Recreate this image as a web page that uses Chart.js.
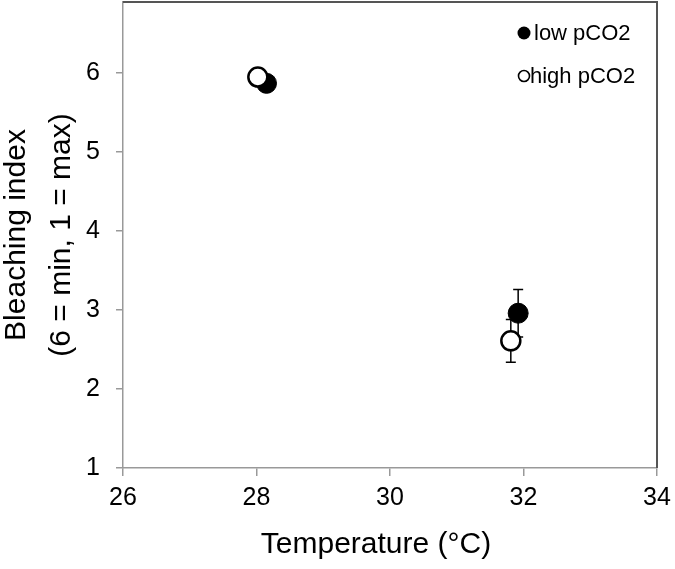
<!DOCTYPE html>
<html>
<head>
<meta charset="utf-8">
<script src="https://cdn.jsdelivr.net/npm/chart.js@4.4.1/dist/chart.umd.min.js"></script>
<style>
  html, body { margin: 0; padding: 0; background: #fff; }
  #wrap { position: relative; width: 675px; height: 569px; }
</style>
</head>
<body>
<div id="wrap"><canvas id="chart" width="675" height="569"></canvas></div>
<script>
// ===== Data =====
const LOW_TEMP = [28.15, 31.92];
const LOW_BLEACH = [5.87, 2.96];
const LOW_ERR = [0.05, 0.30];

const HIGH_TEMP = [28.02, 31.81];
const HIGH_BLEACH = [5.95, 2.61];
const HIGH_ERR = [0.05, 0.27];

const X_TICKS = [26, 28, 30, 32, 34];
const Y_TICKS = [1, 2, 3, 4, 5, 6];

const X_TITLE = 'Temperature (°C)';

const FONT = "'Liberation Sans', Arial, sans-serif";

function toPoints(xs, ys, errs) {
  return xs.map((x, i) => ({ x: x, y: ys[i], err: errs[i] }));
}

// error bars, drawn under the markers
const errorBars = {
  id: 'errorBars',
  beforeDatasetsDraw(chart) {
    const { ctx, scales: { x, y } } = chart;
    ctx.save();
    ctx.strokeStyle = '#000';
    ctx.lineWidth = 1.5;
    chart.data.datasets.forEach((ds) => {
      ds.data.forEach((p) => {
        const px = x.getPixelForValue(p.x);
        const top = y.getPixelForValue(p.y + p.err);
        const bot = y.getPixelForValue(p.y - p.err);
        ctx.beginPath();
        ctx.moveTo(px, top); ctx.lineTo(px, bot);
        ctx.moveTo(px - 5, top); ctx.lineTo(px + 5, top);
        ctx.moveTo(px - 5, bot); ctx.lineTo(px + 5, bot);
        ctx.stroke();
      });
    });
    ctx.restore();
  },
};

// top/right frame, x title (sits a bit left of centre) and inset legend
const frameLegend = {
  id: 'frameLegend',
  afterDraw(chart) {
    const { ctx, chartArea: a } = chart;
    ctx.save();
    ctx.strokeStyle = '#555';
    ctx.lineWidth = 2;
    ctx.beginPath();
    ctx.moveTo(a.left, a.top); ctx.lineTo(a.right, a.top); ctx.lineTo(a.right, a.bottom);
    ctx.stroke();

    ctx.fillStyle = '#000';
    ctx.textBaseline = 'middle';
    ctx.textAlign = 'center';
    ctx.font = '30px ' + FONT;
    ctx.fillText(X_TITLE, 376, 545);

    ctx.font = '22px ' + FONT;
    ctx.textAlign = 'left';
    chart.data.datasets.forEach((ds, i) => {
      const cy = i === 0 ? 33 : 76;
      const cx = 524;
      ctx.beginPath();
      ctx.arc(cx, cy, ds.filled ? 6.5 : 5.5, 0, Math.PI * 2);
      if (ds.filled) {
        ctx.fillStyle = '#000'; ctx.fill();
      } else {
        ctx.lineWidth = 1.6; ctx.strokeStyle = '#000'; ctx.stroke();
      }
      ctx.fillStyle = '#000';
      ctx.fillText(ds.label, cx + (ds.filled ? 10 : 6), cy + 1);
    });
    ctx.restore();
  },
};

new Chart(document.getElementById('chart'), {
  type: 'scatter',
  data: {
    datasets: [
      {
        label: 'low pCO2',
        filled: true,
        data: toPoints(LOW_TEMP, LOW_BLEACH, LOW_ERR),
        backgroundColor: '#000',
        borderColor: '#000',
        borderWidth: 1,
        pointRadius: 10,
        order: 2,
      },
      {
        label: 'high pCO2',
        filled: false,
        data: toPoints(HIGH_TEMP, HIGH_BLEACH, HIGH_ERR),
        backgroundColor: '#fff',
        borderColor: '#000',
        borderWidth: 2.5,
        pointRadius: 9.5,
        order: 1,
      },
    ],
  },
  options: {
    responsive: false,
    animation: false,
    events: [],
    layout: { autoPadding: false, padding: { top: 2, right: 18, left: 0, bottom: 0 } },
    plugins: { legend: { display: false }, tooltip: { enabled: false } },
    scales: {
      x: {
        type: 'linear',
        min: 26,
        max: 34,
        afterBuildTicks: (s) => { s.ticks = X_TICKS.map((v) => ({ value: v })); },
        afterFit: (s) => { s.height = 101; s.paddingLeft = 0; s.paddingRight = 0; },
        grid: { drawOnChartArea: false, color: '#999', tickLength: 8, lineWidth: 1.5 },
        border: { color: '#999', width: 1.5 },
        ticks: { color: '#000', padding: 7, font: { family: FONT, size: 25 } },
      },
      y: {
        type: 'linear',
        min: 1,
        max: 6.9,
        afterBuildTicks: (s) => { s.ticks = Y_TICKS.map((v) => ({ value: v })); },
        afterFit: (s) => { s.width = 123; s.paddingTop = 0; s.paddingBottom = 0; },
        grid: { drawOnChartArea: false, color: '#999', tickLength: 7, lineWidth: 1.5 },
        border: { color: '#999', width: 1.5 },
        ticks: { color: '#000', padding: 16, font: { family: FONT, size: 25 } },
        title: {
          display: true,
          text: ['Bleaching index', '(6 = min, 1 = max)'],
          color: '#000',
          font: { family: FONT, size: 30, lineHeight: 1.5 },
          padding: { top: -6, bottom: 0 },
        },
      },
    },
  },
  plugins: [errorBars, frameLegend],
});
</script>
</body>
</html>
